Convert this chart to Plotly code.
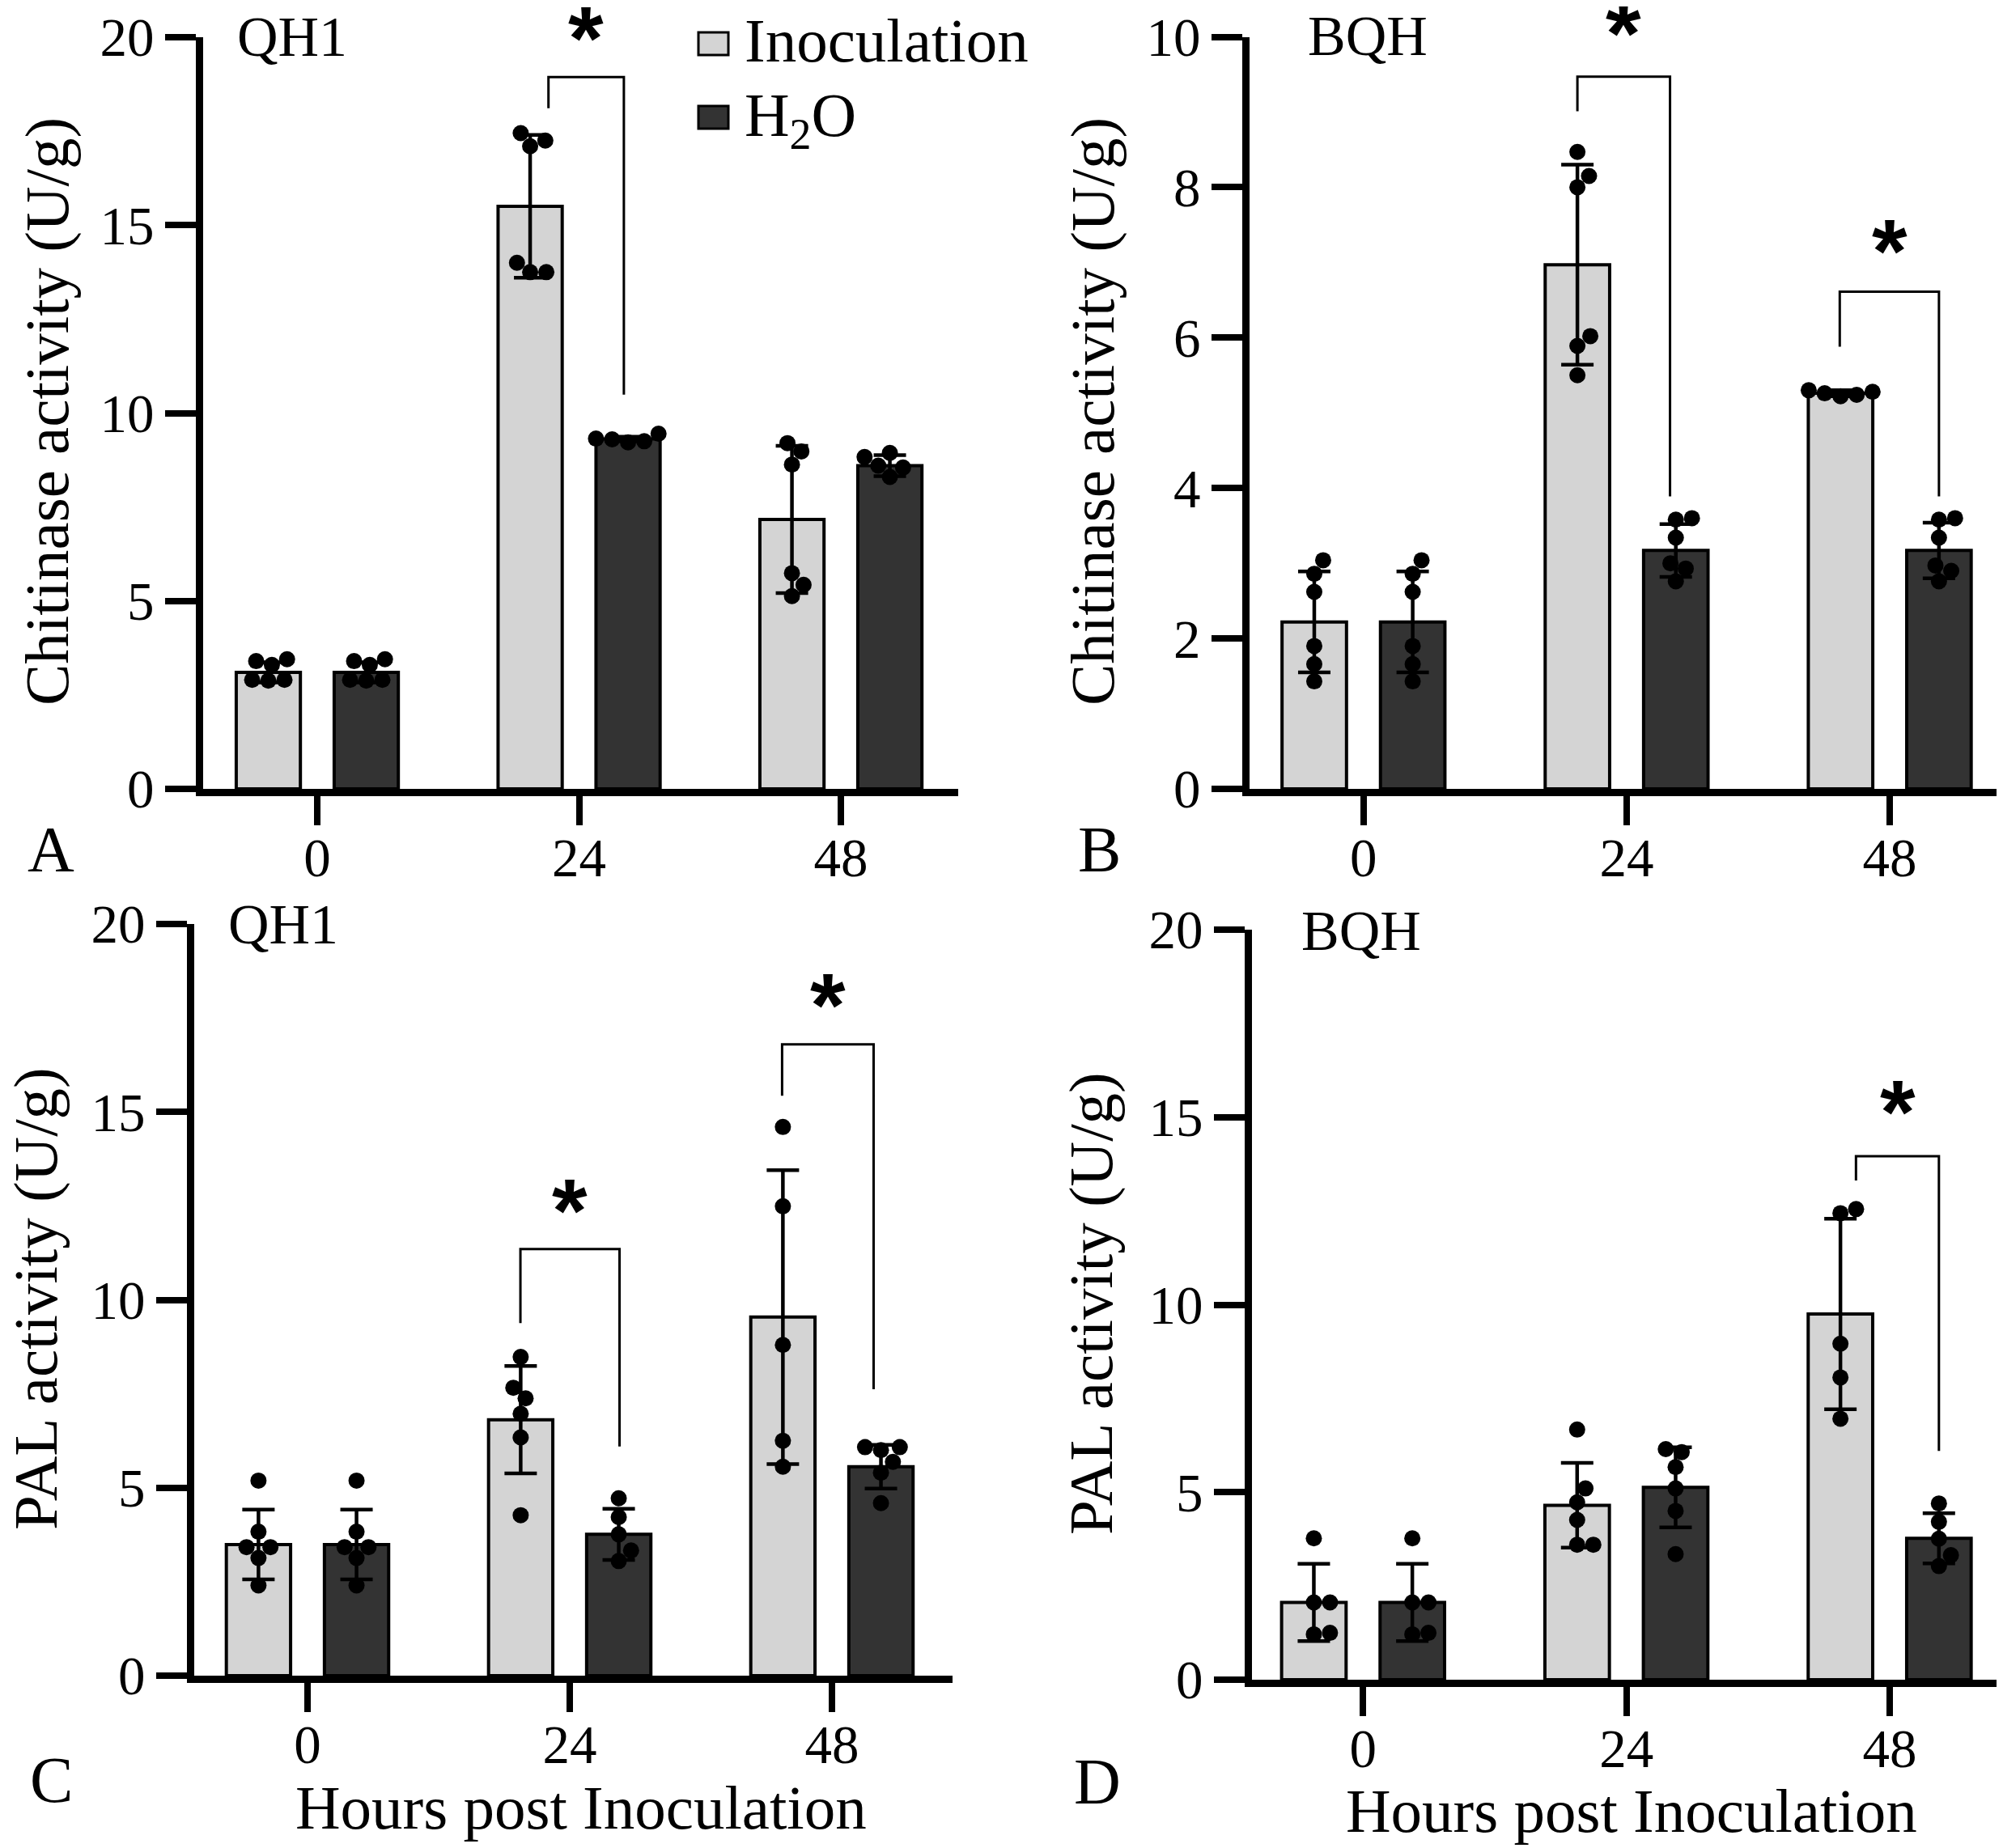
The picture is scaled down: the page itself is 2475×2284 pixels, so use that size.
import math
import plotly.graph_objects as go

W, H = 2475, 2284

# ---------------- data ----------------
hours = ["0", "24", "48"]
series_names = ["Inoculation", "H<sub>2</sub>O"]

# Panel A: Chitinase activity, QH1
A_inoc_mean = [3.10, 15.50, 7.17]
A_inoc_sd = [0.27, 1.90, 1.96]
A_h2o_mean = [3.10, 9.31, 8.60]
A_h2o_sd = [0.27, 0.06, 0.28]
A_inoc_pts = [[3.45, 3.40, 3.30, 2.90, 2.88, 2.90],
              [17.45, 17.10, 17.25, 14.00, 13.75, 13.75],
              [9.20, 8.98, 8.63, 5.74, 5.43, 5.13]]
A_h2o_pts = [[3.45, 3.40, 3.30, 2.90, 2.88, 2.90],
             [9.45, 9.32, 9.30, 9.25, 9.22],
             [8.94, 8.83, 8.60, 8.55, 8.30]]

# Panel B: Chitinase activity, BQH
B_inoc_mean = [2.22, 6.97, 5.26]
B_inoc_sd = [0.67, 1.33, 0.04]
B_h2o_mean = [2.22, 3.17, 3.17]
B_h2o_sd = [0.67, 0.35, 0.37]
B_inoc_pts = [[3.04, 2.86, 2.62, 1.90, 1.66, 1.43],
              [8.47, 8.15, 8.00, 6.02, 5.89, 5.50],
              [5.30, 5.28, 5.26, 5.24, 5.22]]
B_h2o_pts = [[3.04, 2.86, 2.62, 1.90, 1.66, 1.43],
             [3.60, 3.58, 3.34, 3.00, 2.93, 2.76],
             [3.60, 3.58, 3.34, 2.97, 2.90, 2.76]]

# Panel C: PAL activity, QH1
C_inoc_mean = [3.49, 6.81, 9.54]
C_inoc_sd = [0.93, 1.43, 3.91]
C_h2o_mean = [3.49, 3.76, 5.56]
C_h2o_sd = [0.93, 0.68, 0.58]
C_inoc_pts = [[5.19, 3.83, 3.42, 3.42, 3.13, 2.40],
              [8.48, 7.66, 7.38, 6.97, 6.34, 4.27],
              [14.60, 12.49, 8.80, 6.25, 5.56]]
C_h2o_pts = [[5.19, 3.83, 3.42, 3.42, 3.13, 2.40],
             [4.72, 4.22, 3.76, 3.33, 3.05],
             [6.08, 6.08, 6.00, 5.69, 5.40, 4.59]]

# Panel D: PAL activity, BQH
D_inoc_mean = [2.06, 4.65, 9.75]
D_inoc_sd = [1.03, 1.13, 2.54]
D_h2o_mean = [2.06, 5.13, 3.77]
D_h2o_sd = [1.03, 1.07, 0.67]
D_inoc_pts = [[3.77, 2.06, 2.06, 1.25, 1.21],
              [6.67, 5.10, 4.73, 4.26, 3.60, 3.60],
              [12.55, 12.44, 8.96, 8.06, 6.96]]
D_h2o_pts = [[3.77, 2.06, 2.06, 1.25, 1.21],
             [6.15, 6.07, 5.67, 5.10, 4.50, 3.35],
             [4.70, 4.21, 3.76, 3.32, 3.03]]

# significance brackets: (group index, left x offset, right x offset, top, left end, right end, star y)
A_sig = [(1, -0.117, 0.171, 18.94, 18.11, 10.49, 20.15)]
B_sig = [(1, -0.187, 0.165, 9.47, 9.01, 3.89, 10.13),
         (2, -0.190, 0.187, 6.61, 5.88, 3.89, 7.24)]
C_sig = [(1, -0.188, 0.190, 11.35, 9.38, 6.10, 12.54),
         (2, -0.190, 0.159, 16.80, 15.43, 7.62, 18.00)]
D_sig = [(2, -0.128, 0.187, 13.96, 13.31, 6.10, 15.30)]

A_yticks = [0, 5, 10, 15, 20]
B_yticks = [0, 2, 4, 6, 8, 10]
C_yticks = [0, 5, 10, 15, 20]
D_yticks = [0, 5, 10, 15, 20]

y_title_chi = "Chitinase activity (U/g)"
y_title_pal = "PAL activity (U/g)"
x_title = "Hours post Inoculation"

# ---------------- style / layout ----------------
SERIF = "Liberation Serif"
LIGHT = "#d4d4d4"
DARK = "#333333"
OFF = 0.187
BW = 0.245
TICKF = 67

# pixel boxes of plot areas: (left, right, top, bottom)
panels = [
    dict(name="A", box=(243, 1176, 38, 967), xr=(-0.436, 2.448), yr=(0, 20), yt=A_yticks,
         im=A_inoc_mean, isd=A_inoc_sd, hm=A_h2o_mean, hsd=A_h2o_sd, ip=A_inoc_pts, hp=A_h2o_pts, sig=A_sig,
         ytitle=y_title_chi, ytpos=(50, 501), letter=(55, 1042), strain="QH1", spos=(283, 38)),
    dict(name="B", box=(1536, 2475, 37.5, 967), xr=(-0.433, 2.455), yr=(0, 10), yt=B_yticks,
         im=B_inoc_mean, isd=B_inoc_sd, hm=B_h2o_mean, hsd=B_h2o_sd, ip=B_inoc_pts, hp=B_h2o_pts, sig=B_sig,
         ytitle=y_title_chi, ytpos=(1342, 501), letter=(1350, 1042), strain="BQH", spos=(1606, 37)),
    dict(name="C", box=(232, 1169, 1134, 2063), xr=(-0.432, 2.46), yr=(0, 20), yt=C_yticks,
         im=C_inoc_mean, isd=C_inoc_sd, hm=C_h2o_mean, hsd=C_h2o_sd, ip=C_inoc_pts, hp=C_h2o_pts, sig=C_sig,
         ytitle=y_title_pal, ytpos=(36, 1597), letter=(55, 2192), strain="QH1", spos=(272, 1134),
         xtitle=(710, 2226)),
    dict(name="D", box=(1539, 2475, 1141, 2068), xr=(-0.422, 2.455), yr=(0, 20), yt=D_yticks,
         im=D_inoc_mean, isd=D_inoc_sd, hm=D_h2o_mean, hsd=D_h2o_sd, ip=D_inoc_pts, hp=D_h2o_pts, sig=D_sig,
         ytitle=y_title_pal, ytpos=(1340, 1603), letter=(1348, 2194), strain="BQH", spos=(1598, 1142),
         xtitle=(2008, 2230)),
]


def swarm(vals, px_x, px_y, d=20.0):
    """Beeswarm horizontal offsets (data units) so dots of diameter d px don't overlap."""
    placed = []
    xs = [0.0] * len(vals)
    for i in sorted(range(len(vals)), key=lambda k: vals[k]):
        y = vals[i] * px_y
        cands = [0.0]
        intervals = []
        for xp, yp in placed:
            dy = abs(y - yp)
            if dy < d:
                h = math.sqrt(d * d - dy * dy)
                intervals.append((xp - h, xp + h))
                cands += [xp - h, xp + h]
        valid = [c for c in cands if all(not (a + 1e-6 < c < b - 1e-6) for a, b in intervals)]
        best = min(valid, key=lambda c: (round(abs(c), 6), -c))
        xs[i] = best / px_x
        placed.append((best, y))
    return xs


fig = go.Figure()
layout = dict(template="none", width=W, height=H, margin=dict(l=0, r=0, t=0, b=0, pad=0, autoexpand=False),
              paper_bgcolor="white", plot_bgcolor="white", showlegend=False,
              shapes=[], annotations=[])

for k, p in enumerate(panels):
    n = "" if k == 0 else str(k + 1)
    xa, ya = "x" + n, "y" + n
    L, R, T, B = p["box"]
    px_x = (R - L) / (p["xr"][1] - p["xr"][0])
    px_y = (B - T) / (p["yr"][1] - p["yr"][0])
    dom_y = [1 - B / H, 1 - T / H]

    for means, sds, pts, col, sign in [(p["im"], p["isd"], p["ip"], LIGHT, -1),
                                        (p["hm"], p["hsd"], p["hp"], DARK, 1)]:
        xs = [i + sign * OFF for i in range(len(hours))]
        fig.add_trace(go.Bar(
            x=xs, y=means, width=BW, xaxis=xa, yaxis=ya,
            marker=dict(color=col, line=dict(color="black", width=4)),
            error_y=dict(type="data", array=sds, visible=True, color="black", thickness=4.5, width=20),
            hoverinfo="skip"))
    for pts_all, sign in [(p["ip"], -1), (p["hp"], 1)]:
        px_list, py_list = [], []
        for i, pts in enumerate(pts_all):
            offs = swarm(pts, px_x, px_y)
            px_list += [i + sign * OFF + o for o in offs]
            py_list += pts
        fig.add_trace(go.Scatter(
            x=px_list, y=py_list, mode="markers", xaxis=xa, yaxis=ya,
            marker=dict(color="black", size=20, line=dict(width=0)), cliponaxis=False,
            hoverinfo="skip"))

    axis_common = dict(showline=True, linewidth=9, linecolor="black", ticks="outside",
                       tickwidth=8, tickcolor="black", showgrid=False, zeroline=False,
                       automargin=False,
                       tickfont=dict(family=SERIF, size=TICKF, color="black"), fixedrange=True)
    layout["xaxis" + n] = dict(axis_common, domain=[L / W, R / W], range=list(p["xr"]),
                               tickvals=list(range(len(hours))), ticktext=hours, ticklen=36,
                               ticklabelstandoff=-17, anchor=ya)
    layout["yaxis" + n] = dict(axis_common, domain=dom_y, range=list(p["yr"]),
                               tickvals=p["yt"], ticktext=[str(v) for v in p["yt"]], ticklen=38,
                               anchor=xa)

    def ypaper(v, p=p, dom_y=dom_y):
        y0, y1 = p["yr"]
        return dom_y[0] + (v - y0) / (y1 - y0) * (dom_y[1] - dom_y[0])

    for (g, xl, xr_, top, lb, rb, sy) in p["sig"]:
        layout["shapes"].append(dict(
            type="path", xref=xa, yref=ya,
            path=f"M {g + xl},{lb} L {g + xl},{top} L {g + xr_},{top} L {g + xr_},{rb}",
            line=dict(color="black", width=3)))
        # star placed in paper space (it may sit above the axis range)
        xs_data = g + (xl + xr_) / 2
        x_paper = (L + (xs_data - p["xr"][0]) * px_x) / W
        layout["annotations"].append(dict(
            x=x_paper, y=ypaper(sy), xref="paper", yref="paper", text="<b>*</b>", showarrow=False,
            font=dict(family="Liberation Sans", size=112, color="black"),
            xanchor="center", yanchor="middle", yshift=-8))

    layout["annotations"].append(dict(
        x=p["ytpos"][0] / W, y=1 - p["ytpos"][1] / H, xref="paper", yref="paper",
        text=p["ytitle"], textangle=-90, showarrow=False, xanchor="center", yanchor="middle",
        font=dict(family=SERIF, size=77, color="black")))
    layout["annotations"].append(dict(
        x=p["letter"][0] / W, y=1 - p["letter"][1] / H, xref="paper", yref="paper",
        text=p["name"], showarrow=False, xanchor="center", yanchor="middle",
        font=dict(family=SERIF, size=80, color="black")))
    layout["annotations"].append(dict(
        x=p["spos"][0] / W, y=1 - p["spos"][1] / H, xref="paper", yref="paper",
        text=p["strain"], showarrow=False, xanchor="left", yanchor="middle",
        font=dict(family=SERIF, size=70, color="black")))
    if "xtitle" in p:
        layout["annotations"].append(dict(
            x=p["xtitle"][0] / W, y=1 - p["xtitle"][1] / H, xref="paper", yref="paper",
            text=x_title, showarrow=False, xanchor="center", yanchor="middle",
            font=dict(family=SERIF, size=77, color="black")))

# legend (drawn manually in panel A): (label, colour, square top, square bottom, text anchor y)
legend_items = [(series_names[0], LIGHT, 32, 60, 42), (series_names[1], DARK, 123, 151, 139)]
for name, col, y0, y1, yc in legend_items:
    layout["shapes"].append(dict(type="rect", xref="paper", yref="paper",
                                 x0=855 / W, x1=892 / W, y0=1 - y1 / H, y1=1 - y0 / H,
                                 fillcolor=col, line=dict(color="black", width=3)))
    layout["annotations"].append(dict(
        x=910 / W, y=1 - yc / H, xref="paper", yref="paper", text=name, showarrow=False,
        xanchor="left", yanchor="middle", font=dict(family=SERIF, size=77, color="black")))

fig.update_layout(**layout)
fig.write_html("out.html")
